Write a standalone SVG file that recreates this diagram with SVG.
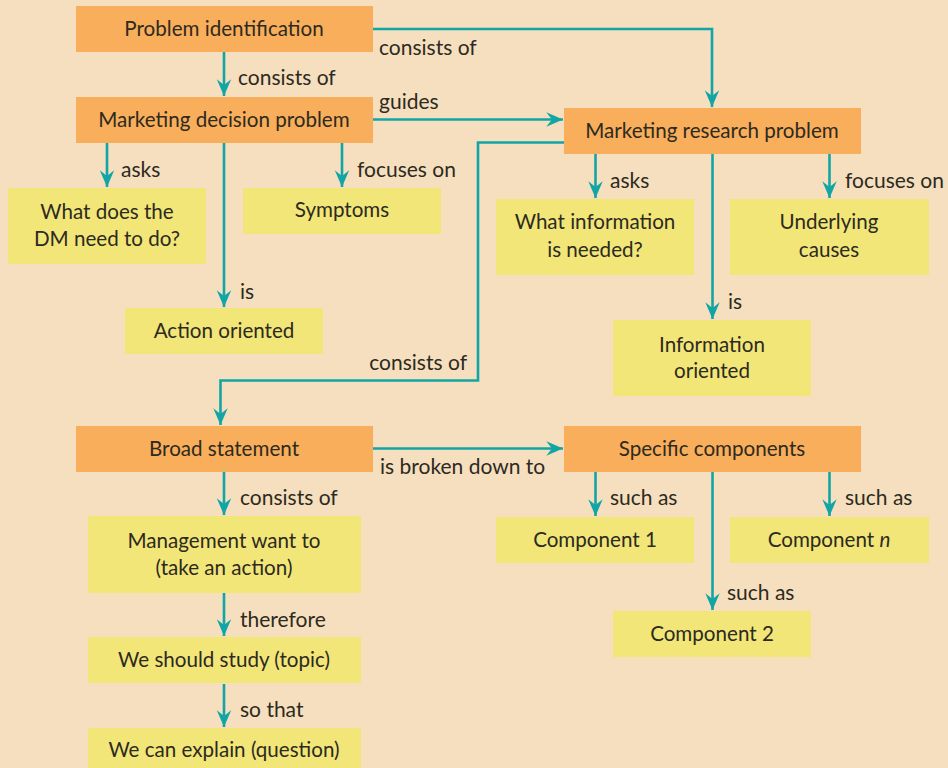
<svg xmlns="http://www.w3.org/2000/svg" width="948" height="768" viewBox="0 0 948 768">
<defs>
<marker id="ah" markerUnits="userSpaceOnUse" markerWidth="20" markerHeight="20" viewBox="-16 -8 18 16" refX="0" refY="0" orient="auto">
<path d="M0,0 L-15,-6.5 L-10,0 L-15,6.5 Z" fill="#12a5a5"/>
</marker>
</defs>
<style>
.o{fill:#f9ae5c}
.y{fill:#f2e679}
text{font-family:Lato,"Open Sans","Liberation Sans",sans-serif;font-size:20.6px;fill:#2d2a1e}
.e{font-size:21px}
.n{text-anchor:middle}
.c path{fill:none;stroke:#12a5a5;stroke-width:2.6}
.a{marker-end:url(#ah)}
</style>
<rect width="948" height="768" fill="#f5dfbf"/>
<g class="c" id="connectors">
<path class="a" d="M224,52 V96"/>
<path class="a" d="M373,29 H712 V107"/>
<path class="a" d="M373,119.5 H563"/>
<path class="a" d="M107,143 V187"/>
<path class="a" d="M224,143 V307"/>
<path class="a" d="M342,143 V187"/>
<path class="a" d="M564,142.5 H478 V380.5 H220.5 V425"/>
<path class="a" d="M595.5,154 V198"/>
<path class="a" d="M712.5,154 V319"/>
<path class="a" d="M829.5,154 V198"/>
<path class="a" d="M373,448.5 H563"/>
<path class="a" d="M224,472 V515"/>
<path class="a" d="M595.5,472 V516"/>
<path class="a" d="M712.5,472 V610"/>
<path class="a" d="M829.5,472 V516"/>
<path class="a" d="M224,593 V636"/>
<path class="a" d="M224,684 V727"/>
</g>
<g id="labels">
<text class="e" x="238" y="85">consists of</text>
<text class="e" x="379" y="55">consists of</text>
<text class="e" x="379" y="109">guides</text>
<text class="e" x="121" y="177">asks</text>
<text class="e" x="240" y="299">is</text>
<text class="e" x="357" y="177">focuses on</text>
<text class="e" x="467" y="370" text-anchor="end">consists of</text>
<text class="e" x="610" y="188">asks</text>
<text class="e" x="728" y="309">is</text>
<text class="e" x="845" y="188">focuses on</text>
<text class="e" x="380" y="474">is broken down to</text>
<text class="e" x="240" y="505">consists of</text>
<text class="e" x="610" y="505">such as</text>
<text class="e" x="727" y="600">such as</text>
<text class="e" x="845" y="505">such as</text>
<text class="e" x="240" y="627">therefore</text>
<text class="e" x="240" y="717">so that</text>
</g>
<g id="problem-identification"><rect class="o" x="76" y="6" width="297" height="46"/><text class="n" x="224" y="36">Problem identification</text></g>
<g id="marketing-decision-problem"><rect class="o" x="76" y="97" width="297" height="46"/><text class="n" x="224" y="127">Marketing decision problem</text></g>
<g id="marketing-research-problem"><rect class="o" x="564" y="108" width="297" height="46"/><text class="n" x="712" y="138">Marketing research problem</text></g>
<g id="dm-need"><rect class="y" x="8" y="188" width="198" height="76"/><text class="n" x="107" y="219">What does the</text><text class="n" x="107" y="246">DM need to do?</text></g>
<g id="symptoms"><rect class="y" x="243" y="188" width="198" height="46"/><text class="n" x="342" y="217">Symptoms</text></g>
<g id="action-oriented"><rect class="y" x="125" y="308" width="198" height="46"/><text class="n" x="224" y="338">Action oriented</text></g>
<g id="info-needed"><rect class="y" x="496" y="199" width="198" height="76"/><text class="n" x="595" y="229">What information</text><text class="n" x="595" y="257">is needed?</text></g>
<g id="underlying-causes"><rect class="y" x="730" y="199" width="199" height="76"/><text class="n" x="829" y="229">Underlying</text><text class="n" x="829" y="257">causes</text></g>
<g id="information-oriented"><rect class="y" x="613" y="320" width="198" height="76"/><text class="n" x="712" y="352">Information</text><text class="n" x="712" y="378">oriented</text></g>
<g id="broad-statement"><rect class="o" x="76" y="426" width="297" height="46"/><text class="n" x="224" y="456">Broad statement</text></g>
<g id="specific-components"><rect class="o" x="564" y="426" width="297" height="46"/><text class="n" x="712" y="456">Specific components</text></g>
<g id="component-1"><rect class="y" x="496" y="517" width="198" height="46"/><text class="n" x="595" y="547">Component 1</text></g>
<g id="component-n"><rect class="y" x="730" y="517" width="199" height="46"/><text class="n" x="829" y="547">Component <tspan font-style="italic">n</tspan></text></g>
<g id="component-2"><rect class="y" x="613" y="611" width="198" height="46"/><text class="n" x="712" y="641">Component 2</text></g>
<g id="management"><rect class="y" x="88" y="516" width="273" height="77"/><text class="n" x="224" y="548">Management want to</text><text class="n" x="224" y="575">(take an action)</text></g>
<g id="study"><rect class="y" x="88" y="637" width="273" height="46"/><text class="n" x="224" y="667">We should study (topic)</text></g>
<g id="explain"><rect class="y" x="88" y="728" width="273" height="45"/><text class="n" x="224" y="757">We can explain (question)</text></g>
</svg>
